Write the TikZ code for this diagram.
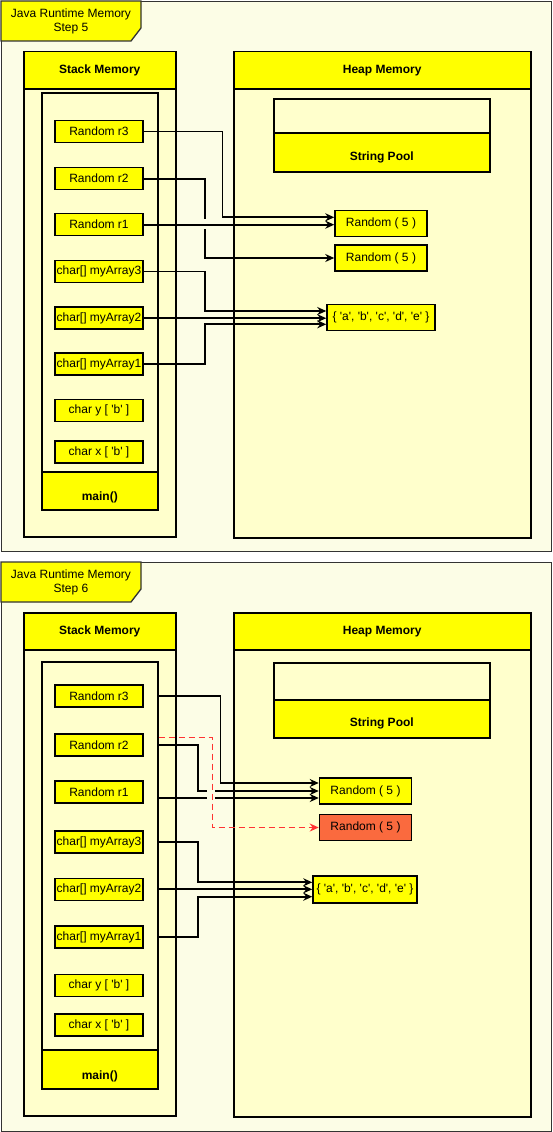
\documentclass[tikz,border=0pt]{standalone}
\usepackage{fontspec}
\setmainfont{Liberation Sans}[Ligatures=TeXOff]
\usetikzlibrary{positioning,calc,arrows.meta}
\definecolor{lanefill}{HTML}{FFFF00}
\definecolor{bodyfill}{HTML}{FFFFCC}
\definecolor{framefill}{HTML}{FCFDE6}
\definecolor{newobj}{HTML}{FA6A3E}
\definecolor{refred}{HTML}{FF3333}

\begin{document}
\begin{tikzpicture}[
		x=1pt,y=-1pt,
		font=\fontsize{12}{14}\selectfont,
		memframe/.style={draw=black!80, line width=1.3pt, fill=framefill, anchor=north west, inner sep=0pt},
		titletab/.style={draw=black!80, line width=1.3pt, fill=lanefill},
		body/.style={draw, line width=1.5pt, fill=bodyfill, anchor=north west, inner sep=0pt},
		lane/.style={draw, line width=1.5pt, fill=lanefill, anchor=north west, inner sep=0pt},
		boldtxt/.style={font=\fontsize{12}{14}\selectfont\bfseries},
		var/.style={draw, line width=1.5pt, fill=lanefill, minimum width=88pt, minimum height=22pt, inner sep=0pt},
		obj/.style={draw, line width=1.5pt, fill=lanefill, minimum height=26pt, inner sep=0pt},
		ref/.style={line width=1.7pt, -{Stealth[length=9pt,width=8pt]}},
		newref/.style={ref, draw=refred, dash pattern=on 6pt off 4pt},
		jumpgap/.style={fill=framefill}
		]
		\useasboundingbox (0,0) rectangle (552,1132);
		
		% ====== STEP 5 ======
		\node[memframe, minimum width=550pt, minimum height=550pt] (f5) at (1,1) {};
		\draw[titletab] (f5.north west) -- ++(140,0) -- ++(0,27) -- ++(-10,13) -- ++(-130,0) -- cycle;
		\node[align=center] (t5) at (71,21) {Java Runtime Memory\\Step 5};
		
		% stack
		\node[body, minimum width=152pt, minimum height=485pt] (st5) at (23,51) {};
		\node[lane, boldtxt, minimum width=152pt, minimum height=37pt] (sh5) at (23,51) {Stack Memory};
		\node[body, minimum width=116pt, minimum height=417pt] (in5) at (41,92) {};
		\node[lane, minimum width=116pt, minimum height=38pt] (mn5) at (41,471) {};
		\node[boldtxt] (mt5) at ([yshift=-7pt]mn5.center) {main()};
		
		\node[var] (s5r3) at (99,131.5) {Random r3};
		\node[var] (s5r2) at (99,178.7) {Random r2};
		\node[var] (s5r1) at (99,224.7) {Random r1};
		\node[var] (s5a3) at (99,271.5) {char[] myArray3};
		\node[var] (s5a2) at (99,318.2) {char[] myArray2};
		\node[var] (s5a1) at (99,364.2) {char[] myArray1};
		\node[var] (s5y) at (99,410.5) {char y [ 'b' ]};
		\node[var] (s5x) at (99,452) {char x [ 'b' ]};
		
		% heap
		\node[body, minimum width=297pt, minimum height=486pt] (hp5) at (233,51) {};
		\node[lane, boldtxt, minimum width=297pt, minimum height=37pt] (hh5) at (233,51) {Heap Memory};
		\node[body, minimum width=216pt, minimum height=73pt] (pl5) at (273,98) {};
		\node[lane, minimum width=216pt, minimum height=39pt] (ph5) at (273,132) {};
		\node[boldtxt] (pt5) at ([yshift=-5pt]ph5.center) {String Pool};
		
		\node[obj, minimum width=92pt] (s5ra) at (381,223.3) {Random ( 5 )};
		\node[obj, minimum width=92pt] (s5rb) at (381,258) {Random ( 5 )};
		\node[obj, minimum width=108pt] (s5arr) at (381,317.5) {\{ 'a', 'b', 'c', 'd', 'e' \}};
		
		% references
		\draw[ref] (s5r2.east) -- ++(61,0) |- (s5rb.west);
		\fill[jumpgap] (201,218.5) rectangle (207,229);
		\draw[ref] (s5r1.east) -- (s5r1.east -| s5ra.west);
		\draw[ref] (s5r3.east) -- ++(78.7,0) |- ([yshift=6pt]s5ra.west);
		\draw[ref] (s5a3.east) -- ++(61,0) |- ([yshift=6.5pt]s5arr.west);
		\draw[ref] (s5a2.east) -- (s5a2.east -| s5arr.west);
		\draw[ref] (s5a1.east) -- ++(61,0) |- ([yshift=-6.8pt]s5arr.west);
		
		% ====== STEP 6 ======
		\node[memframe, minimum width=550pt, minimum height=569pt] (f6) at (1,562) {};
		\draw[titletab] (f6.north west) -- ++(140,0) -- ++(0,27) -- ++(-10,13) -- ++(-130,0) -- cycle;
		\node[align=center] (t6) at (71,582) {Java Runtime Memory\\Step 6};
		
		% stack
		\node[body, minimum width=152pt, minimum height=503pt] (st6) at (23,612) {};
		\node[lane, boldtxt, minimum width=152pt, minimum height=37pt] (sh6) at (23,612) {Stack Memory};
		\node[body, minimum width=116pt, minimum height=427pt] (in6) at (41,661) {};
		\node[lane, minimum width=116pt, minimum height=39pt] (mn6) at (41,1049) {};
		\node[boldtxt] (mt6) at ([yshift=-7pt]mn6.center) {main()};
		
		\node[var] (s6r3) at (99,696) {Random r3};
		\node[var] (s6r2) at (99,745) {Random r2};
		\node[var] (s6r1) at (99,792) {Random r1};
		\node[var] (s6a3) at (99,842) {char[] myArray3};
		\node[var] (s6a2) at (99,889.3) {char[] myArray2};
		\node[var] (s6a1) at (99,937) {char[] myArray1};
		\node[var] (s6y) at (99,985.5) {char y [ 'b' ]};
		\node[var] (s6x) at (99,1025) {char x [ 'b' ]};
		
		% heap
		\node[body, minimum width=297pt, minimum height=504pt] (hp6) at (233,612) {};
		\node[lane, boldtxt, minimum width=297pt, minimum height=37pt] (hh6) at (233,612) {Heap Memory};
		\node[body, minimum width=216pt, minimum height=75pt] (pl6) at (273,662) {};
		\node[lane, minimum width=216pt, minimum height=38pt] (ph6) at (273,699) {};
		\node[boldtxt] (pt6) at ([yshift=-5pt]ph6.center) {String Pool};
		
		\node[obj, minimum width=92pt] (s6ra) at (365.5,791) {Random ( 5 )};
		\node[obj, minimum width=92pt, fill=newobj] (s6rb) at (365.5,827.5) {Random ( 5 )};
		\node[obj, minimum width=104pt, minimum height=27pt] (s6arr) at (365,889.5) {\{ 'a', 'b', 'c', 'd', 'e' \}};
		
		% references (hidden inside the frame of main)
		\draw[ref] (s6r2.east -| in6.east) -- ++(39.7,0) |- (s6ra.west);
		\draw[ref] ($(s6ra.west -| in6.east)+(0,7)$) -- ([yshift=-7pt]s6ra.west);
		\draw[ref] (s6r3.east -| in6.east) -- ++(62,0) |- ([yshift=8pt]s6ra.west);
		\fill[jumpgap] (207,787.5) rectangle (215,801.5);
		\draw[newref] ($(s6r2.east -| in6.east)+(0,-7.5)$) -- ++(54,0) |- (s6rb.west);
		\draw[ref] (s6a3.east -| in6.east) -- ++(39.7,0) |- ([yshift=7.2pt]s6arr.west);
		\draw[ref] (s6a2.east -| in6.east) -- (s6a2.east -| s6arr.west);
		\draw[ref] (s6a1.east -| in6.east) -- ++(39.7,0) |- ([yshift=-7.2pt]s6arr.west);
		
\end{tikzpicture}
\end{document}
